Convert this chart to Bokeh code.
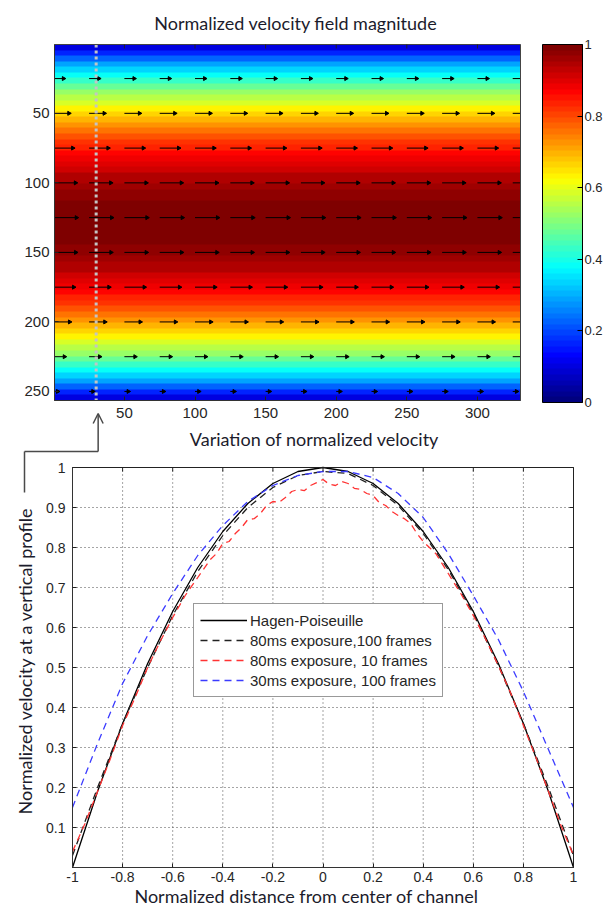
import numpy as np
from bokeh.plotting import figure
from bokeh.models import (Range1d, LinearColorMapper, ColorBar, FixedTicker, LinearAxis,
                          Arrow, OpenHead, Legend, LegendItem, Label)
from bokeh.embed import file_html
from bokeh.resources import INLINE

# ---------------- data: heat map (velocity magnitude, one value per 4-row band) ----------------
HEAT_COLS = 330
HEAT_ROWS = 256
BAND_ROWS = 4
PROFILE = [0.10, 0.17, 0.23, 0.29, 0.34, 0.38, 0.43, 0.47, 0.52, 0.56, 0.59, 0.63, 0.67, 0.70, 0.73, 0.76,
           0.79, 0.82, 0.84, 0.86, 0.88, 0.90, 0.92, 0.94, 0.95, 0.96, 0.97, 0.98, 0.99, 0.99, 1.00, 1.00,
           1.00, 1.00, 0.99, 0.99, 0.98, 0.97, 0.96, 0.95, 0.94, 0.92, 0.90, 0.88, 0.86, 0.84, 0.82, 0.79,
           0.76, 0.73, 0.70, 0.67, 0.63, 0.59, 0.56, 0.52, 0.47, 0.43, 0.38, 0.34, 0.29, 0.23, 0.17, 0.10]
QUIVER_X = [0, 25, 50, 75, 100, 125, 150, 175, 200, 225, 250, 275, 300, 325]
QUIVER_Y = [25, 50, 75, 100, 125, 150, 175, 200, 225, 250]
QUIVER_SCALE = 16
PROFILE_X = 30
HEAT_X_TICKS = [50, 100, 150, 200, 250, 300]
HEAT_Y_TICKS = [50, 100, 150, 200, 250]
CBAR_TICKS = [0, 0.2, 0.4, 0.6, 0.8, 1.0]
CBAR_LABELS = ["0", "0.2", "0.4", "0.6", "0.8", "1"]

# ---------------- data: vertical profiles ----------------
X10 = [-1.0, -0.9, -0.8, -0.7, -0.6, -0.5, -0.4, -0.3, -0.2, -0.1, 0.0,
       0.1, 0.2, 0.3, 0.4, 0.5, 0.6, 0.7, 0.8, 0.9, 1.0]
HAGEN = [0.0, 0.19, 0.36, 0.51, 0.64, 0.75, 0.84, 0.91, 0.96, 0.99, 1.0,
         0.99, 0.96, 0.91, 0.84, 0.75, 0.64, 0.51, 0.36, 0.19, 0.0]
EXP80_100 = [0.03, 0.20, 0.36, 0.50, 0.63, 0.74, 0.83, 0.90, 0.95, 0.98, 0.99,
             0.985, 0.955, 0.905, 0.835, 0.745, 0.635, 0.505, 0.36, 0.20, 0.03]
EXP30_100 = [0.15, 0.31, 0.46, 0.58, 0.685, 0.78, 0.855, 0.915, 0.955, 0.98, 0.99,
             0.99, 0.975, 0.935, 0.875, 0.785, 0.68, 0.57, 0.44, 0.295, 0.15]
X_RED = [-1.0, -0.95, -0.9, -0.85, -0.8, -0.75, -0.7, -0.65, -0.6, -0.55, -0.5,
         -0.45, -0.425, -0.4, -0.375, -0.35, -0.325, -0.3, -0.275, -0.25, -0.225, -0.2, -0.175,
         -0.15, -0.125, -0.1, -0.075, -0.05, -0.025, 0.0, 0.025, 0.05, 0.075, 0.1, 0.125, 0.15,
         0.175, 0.2, 0.225, 0.25, 0.275, 0.3, 0.325, 0.35, 0.375, 0.4, 0.425, 0.45,
         0.5, 0.55, 0.6, 0.65, 0.7, 0.75, 0.8, 0.85, 0.9, 0.95, 1.0]
EXP80_10 = [0.04, 0.11, 0.19, 0.27, 0.355, 0.425, 0.50, 0.565, 0.625, 0.68, 0.725,
            0.77, 0.785, 0.81, 0.815, 0.835, 0.85, 0.87, 0.872, 0.885, 0.905, 0.915, 0.913,
            0.925, 0.94, 0.945, 0.942, 0.955, 0.962, 0.97, 0.958, 0.955, 0.965, 0.96, 0.948, 0.945,
            0.935, 0.93, 0.912, 0.905, 0.89, 0.88, 0.872, 0.86, 0.835, 0.815, 0.80, 0.785,
            0.735, 0.685, 0.63, 0.57, 0.505, 0.435, 0.355, 0.275, 0.19, 0.105, 0.03]
LX_LIM = (-1, 1)
LY_LIM = (0, 1)
LX_TICKS = [-1, -0.8, -0.6, -0.4, -0.2, 0, 0.2, 0.4, 0.6, 0.8, 1]
LX_LABELS = ["-1", "-0.8", "-0.6", "-0.4", "-0.2", "0", "0.2", "0.4", "0.6", "0.8", "1"]
LY_TICKS = [0.1, 0.2, 0.3, 0.4, 0.5, 0.6, 0.7, 0.8, 0.9, 1.0]
LY_LABELS = ["0.1", "0.2", "0.3", "0.4", "0.5", "0.6", "0.7", "0.8", "0.9", "1"]
SERIES_NAMES = ["Hagen-Poiseuille", "80ms exposure,100 frames", "80ms exposure, 10 frames",
                "30ms exposure, 100 frames"]

# ---------------- layout (pixels on the page) ----------------
W, H = 610, 914
HEAT_BOX = (54, 520, 44, 400)      # left, right, top, bottom
PROF_BOX = (72, 573, 467, 867)
CBAR_BOX = (542, 582, 44, 402)
TICK_LEN = 4
TICK_FONT = "Liberation Sans"
TITLE_FONT = "Lato"
TEXT_DARK = "#1c1c2c"
TICK_COLOR = "#262626"


def jet(n):
    out = []
    for i in range(n):
        v = i / (n - 1)
        r = min(max(1.5 - abs(4 * v - 3), 0), 1)
        g = min(max(1.5 - abs(4 * v - 2), 0), 1)
        b = min(max(1.5 - abs(4 * v - 1), 0), 1)
        out.append("#%02x%02x%02x" % (int(r * 255), int(g * 255), int(b * 255)))
    return out


def page_range(d0, d1, p0, p1, q0, q1):
    s = (d1 - d0) / (p1 - p0)
    return Range1d(d0 + (q0 - p0) * s, d0 + (q1 - p0) * s)


JET = jet(64)

p = figure(width=W, height=H, x_range=Range1d(0, W), y_range=Range1d(H, 0),
           x_axis_location=None, y_axis_location=None, min_border=0,
           min_border_left=0, min_border_right=0, min_border_top=0, min_border_bottom=0,
           output_backend="svg", toolbar_location=None)
p.grid.visible = False
p.outline_line_color = None
p.background_fill_color = "white"
p.border_fill_color = "white"

hl, hr, ht, hb = HEAT_BOX
ll, lr, lt, lb = PROF_BOX
p.extra_x_ranges = {
    "hx": page_range(0.5, HEAT_COLS + 0.5, hl, hr, 0, W),
    "lx": page_range(LX_LIM[0], LX_LIM[1], ll, lr, 0, W),
}
p.extra_y_ranges = {
    "hy": page_range(0.5, HEAT_ROWS + 0.5, ht, hb, H, 0),
    "ly": page_range(LY_LIM[0], LY_LIM[1], lb, lt, H, 0),
}
HX = dict(x_range_name="hx", y_range_name="hy")
LXY = dict(x_range_name="lx", y_range_name="ly")
hx_px = (hr - hl) / HEAT_COLS
hy_px = (hb - ht) / HEAT_ROWS
lx_px = (lr - ll) / (LX_LIM[1] - LX_LIM[0])
ly_px = (lb - lt) / (LY_LIM[1] - LY_LIM[0])

# ================= heat map =================
mapper = LinearColorMapper(palette=JET, low=0, high=1)
heat = np.repeat(np.array(PROFILE)[:, None], 2, axis=1)
p.image(image=[heat], x=0.5, y=0.5, dw=HEAT_COLS, dh=HEAT_ROWS, color_mapper=mapper, **HX)

qx0, qx1, qy, hxs, hys = [], [], [], [], []
for r in QUIVER_Y:
    u = PROFILE[min(r // BAND_ROWS, len(PROFILE) - 1)]
    for c in QUIVER_X:
        x_end = c + QUIVER_SCALE * u
        qx0.append(max(c, 0.5))
        qx1.append(min(x_end, HEAT_COLS + 0.5))
        qy.append(r)
        if x_end <= HEAT_COLS + 0.5:
            hxs.append(x_end)
            hys.append(r)
p.segment(x0=qx0, y0=qy, x1=qx1, y1=qy, line_color="black", line_width=1, **HX)
p.scatter(x=hxs, y=hys, marker="triangle", size=4, angle=-np.pi / 2, fill_color="black",
          line_color="black", **HX)

p.segment(x0=[PROFILE_X], y0=[0.5], x1=[PROFILE_X], y1=[HEAT_ROWS + 0.5], line_color="#c4c4c4",
          line_width=3, line_dash="3 3", **HX)

p.quad(left=[0.5], right=[HEAT_COLS + 0.5], top=[0.5], bottom=[HEAT_ROWS + 0.5],
       fill_color=None, line_color="#444444", line_width=1, **HX)
p.segment(x0=HEAT_X_TICKS, y0=[0.5] * len(HEAT_X_TICKS), x1=HEAT_X_TICKS,
          y1=[0.5 + TICK_LEN / hy_px] * len(HEAT_X_TICKS), line_color="#222222", **HX)

ax_hy = LinearAxis(fixed_location=0.5, bounds=(0.5, HEAT_ROWS + 0.5),
                   ticker=FixedTicker(ticks=HEAT_Y_TICKS), major_label_standoff=5, **HX)
ax_hx = LinearAxis(fixed_location=HEAT_ROWS + 0.5, bounds=(0.5, HEAT_COLS + 0.5),
                   ticker=FixedTicker(ticks=HEAT_X_TICKS), major_label_standoff=7, **HX)
p.add_layout(ax_hy, "left")
p.add_layout(ax_hx, "below")

cbar = ColorBar(color_mapper=mapper, ticker=FixedTicker(ticks=CBAR_TICKS),
                major_label_overrides={t: l for t, l in zip(CBAR_TICKS, CBAR_LABELS)},
                location=(CBAR_BOX[0], H - CBAR_BOX[3]),
                width=CBAR_BOX[1] - CBAR_BOX[0], height=CBAR_BOX[3] - CBAR_BOX[2],
                padding=0, margin=0, label_standoff=2,
                major_tick_in=5, major_tick_out=0, major_tick_line_color="black",
                bar_line_color="black", minor_tick_line_color=None,
                background_fill_alpha=0, border_line_color=None,
                major_label_text_font=TICK_FONT, major_label_text_font_size="13px",
                major_label_text_color=TICK_COLOR)
p.add_layout(cbar)

# ================= profiles =================
gx = [t for t in LX_TICKS if LX_LIM[0] < t < LX_LIM[1]]
gy = [t for t in LY_TICKS if LY_LIM[0] < t < LY_LIM[1]]
grid_style = dict(line_color="#4a4a4a", line_width=1, line_dash="1 3")
p.segment(x0=gx, y0=[LY_LIM[0]] * len(gx), x1=gx, y1=[LY_LIM[1]] * len(gx), **grid_style, **LXY)
p.segment(x0=[LX_LIM[0]] * len(gy), y0=gy, x1=[LX_LIM[1]] * len(gy), y1=gy, **grid_style, **LXY)

r_hp = p.line(X10, HAGEN, line_color="black", line_width=1.3, **LXY)
r_e1 = p.line(X10, EXP80_100, line_color="#222222", line_width=1.3, line_dash="7 5", **LXY)
r_e2 = p.line(X_RED, EXP80_10, line_color="#ff3333", line_width=1.3, line_dash="7 5", **LXY)
r_e3 = p.line(X10, EXP30_100, line_color="#3b3bff", line_width=1.3, line_dash="7 5", **LXY)

p.quad(left=[LX_LIM[0]], right=[LX_LIM[1]], bottom=[LY_LIM[0]], top=[LY_LIM[1]],
       fill_color=None, line_color="#222222", line_width=1, **LXY)
p.segment(x0=LX_TICKS, y0=[LY_LIM[1]] * len(LX_TICKS), x1=LX_TICKS,
          y1=[LY_LIM[1] - TICK_LEN / ly_px] * len(LX_TICKS), line_color="#222222", **LXY)
p.segment(x0=[LX_LIM[1]] * len(LY_TICKS), y0=LY_TICKS, x1=[LX_LIM[1] - TICK_LEN / lx_px] * len(LY_TICKS),
          y1=LY_TICKS, line_color="#222222", **LXY)

ax_ly = LinearAxis(fixed_location=LX_LIM[0], bounds=LY_LIM, ticker=FixedTicker(ticks=LY_TICKS),
                   major_label_overrides={t: l for t, l in zip(LY_TICKS, LY_LABELS)},
                   major_label_standoff=7, **LXY)
ax_lx = LinearAxis(fixed_location=LY_LIM[0], bounds=LX_LIM, ticker=FixedTicker(ticks=LX_TICKS),
                   major_label_overrides={t: l for t, l in zip(LX_TICKS, LX_LABELS)},
                   major_label_standoff=4, **LXY)
p.add_layout(ax_ly, "left")
p.add_layout(ax_lx, "below")

for ax, fs in ((ax_hy, "15px"), (ax_hx, "15px"), (ax_ly, "14px"), (ax_lx, "14px")):
    ax.major_tick_in = TICK_LEN
    ax.major_tick_out = 0
    ax.minor_tick_line_color = None
    ax.axis_line_color = "#333333"
    ax.major_tick_line_color = "#222222"
    ax.major_label_text_font = TICK_FONT
    ax.major_label_text_font_size = fs
    ax.major_label_text_color = TICK_COLOR

legend = Legend(items=[LegendItem(label=n, renderers=[r]) for n, r in
                       zip(SERIES_NAMES, [r_hp, r_e1, r_e2, r_e3])],
                location=(193, H - 697), margin=0, padding=6, spacing=0,
                glyph_width=47, glyph_height=20, label_height=20, label_standoff=3,
                label_text_font=TICK_FONT, label_text_font_size="15px",
                label_text_color=TICK_COLOR, border_line_color="#333333",
                border_line_width=1, background_fill_color="white", background_fill_alpha=1)
p.add_layout(legend)

# ================= texts =================
def add_text(text, x, y, angle=0.0):
    p.add_layout(Label(x=x, y=y, text=text, text_font=TITLE_FONT, text_font_size="18px",
                       text_color=TEXT_DARK, text_align="center", text_baseline="middle",
                       angle=angle))


add_text("Normalized velocity  field  magnitude", 300, 22)
add_text("Variation of normalized velocity", 314, 438)
add_text("Normalized  distance  from  center of channel", 313, 895)
add_text("Normalized  velocity at a vertical profile", 24, 658, angle=np.pi / 2)

# ================= connector from the sampled column to the lower chart =================
cx = hl + (PROFILE_X - 0.5) * hx_px + 2
conn = dict(line_color="#4a4a4a", line_width=1.5)
p.add_layout(Arrow(x_start=cx, y_start=451, x_end=cx, y_end=413,
                   end=OpenHead(size=10, line_color="#4a4a4a", line_width=1.5), **conn))
p.add_layout(Arrow(x_start=cx, y_start=451, x_end=24, y_end=451, end=None, **conn))
p.add_layout(Arrow(x_start=24, y_start=451, x_end=24, y_end=492, end=None, **conn))

open("out.html", "w").write(file_html(p, INLINE))
